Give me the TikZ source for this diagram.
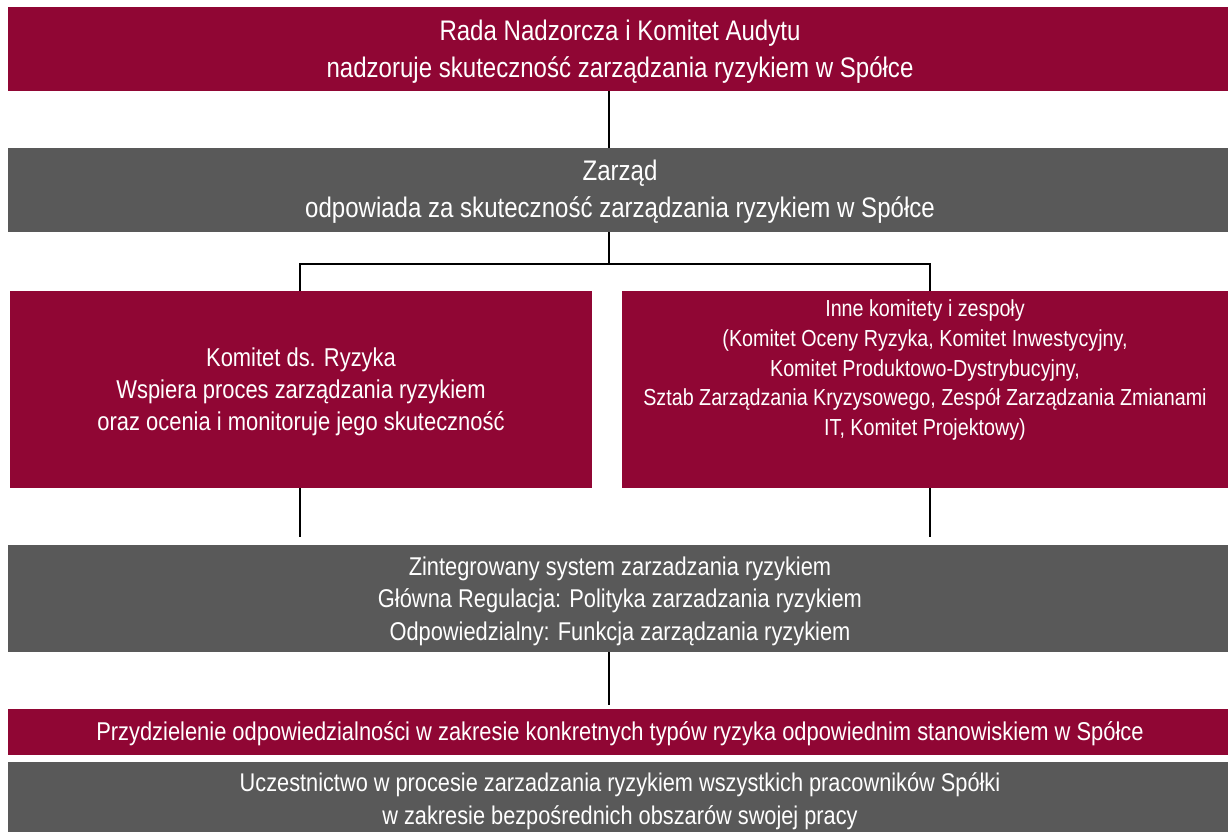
\documentclass[tikz,border=0pt]{standalone}
\usepackage{fontspec}
\setmainfont{Liberation Sans}[FakeStretch=0.85]
\definecolor{crim}{RGB}{144,6,52}
\definecolor{dgray}{RGB}{89,89,89}
\tikzset{
  box/.style={inner sep=0pt, outer sep=0pt, text=white, align=center},
  redbox/.style={box, fill=crim},
  graybox/.style={box, fill=dgray},
  conn/.style={draw=black, line width=2.5pt},
  fs/.style 2 args={font=\fontsize{#1}{#2}\selectfont}
}
\begin{document}
\begin{tikzpicture}[x=1pt,y=-1pt]
\useasboundingbox (0,0) rectangle (1228,832);
% boxes
\node[redbox, minimum width=1220pt, minimum height=84pt] (top) at (618,49) {};
\node[box, fs={28.3}{37}] (toptxt) at (620,51.5)
  {Rada Nadzorcza i Komitet Audytu\\nadzoruje skuteczność zarządzania ryzykiem w Spółce};
\node[graybox, minimum width=1220pt, minimum height=84pt] (zarz) at (618,190) {};
\node[box, fs={28.3}{37}] (zarztxt) at (620,192)
  {Zarząd\\odpowiada za skuteczność zarządzania ryzykiem w Spółce};
\node[redbox, minimum width=582pt, minimum height=197pt] (kom) at (301,389.5) {};
\node[box, fs={25.8}{32}] (komtxt) at (301,392)
  {Komitet ds. Ryzyka\\Wspiera proces zarządzania ryzykiem\\oraz ocenia i monitoruje jego skuteczność};
\node[redbox, minimum width=606pt, minimum height=197pt] (inne) at (925,389.5) {};
\node[box, fs={23.2}{29.6}] (innetxt) at (925,370)
  {Inne komitety i zespoły\\(Komitet Oceny Ryzyka, Komitet Inwestycyjny,\\Komitet Produktowo-Dystrybucyjny,\\Sztab Zarządzania Kryzysowego, Zespół Zarządzania Zmianami\\IT, Komitet Projektowy)};
\node[graybox, minimum width=1220pt, minimum height=107pt] (zint) at (618,598.5) {};
\node[box, fs={25.7}{32.5}] (zinttxt) at (620,601)
  {Zintegrowany system zarzadzania ryzykiem\\Główna Regulacja: Polityka zarzadzania ryzykiem\\Odpowiedzialny: Funkcja zarządzania ryzykiem};
\node[redbox, minimum width=1220pt, minimum height=46pt] (przy) at (618,732) {};
\node[box, fs={25.75}{30}] (przytxt) at (620,733.5)
  {Przydzielenie odpowiedzialności w zakresie konkretnych typów ryzyka odpowiednim stanowiskiem w Spółce};
\node[graybox, minimum width=1220pt, minimum height=76pt] (ucz) at (618,800) {};
\node[box, fs={25.6}{33}] (uczttxt) at (620,801.5)
  {Uczestnictwo w procesie zarzadzania ryzykiem wszystkich pracowników Spółki\\w zakresie bezpośrednich obszarów swojej pracy};
% connectors
\coordinate (j1) at (609,264);
\coordinate (kend) at (300,537);
\coordinate (iend) at (930,537);
\coordinate (zend) at (609,705);
\draw[conn] ([xshift=-9pt]top.south) -- ([xshift=-9pt]zarz.north);
\draw[conn] ([xshift=-9pt]zarz.south) -- (j1);
\draw[conn] ([xshift=-1pt]kom.north) |- (j1) -| ([xshift=5pt]inne.north);
\draw[conn] ([xshift=-1pt]kom.south) -- (kend);
\draw[conn] ([xshift=5pt]inne.south) -- (iend);
\draw[conn] ([xshift=-9pt]zint.south) -- (zend);
\end{tikzpicture}
\end{document}
